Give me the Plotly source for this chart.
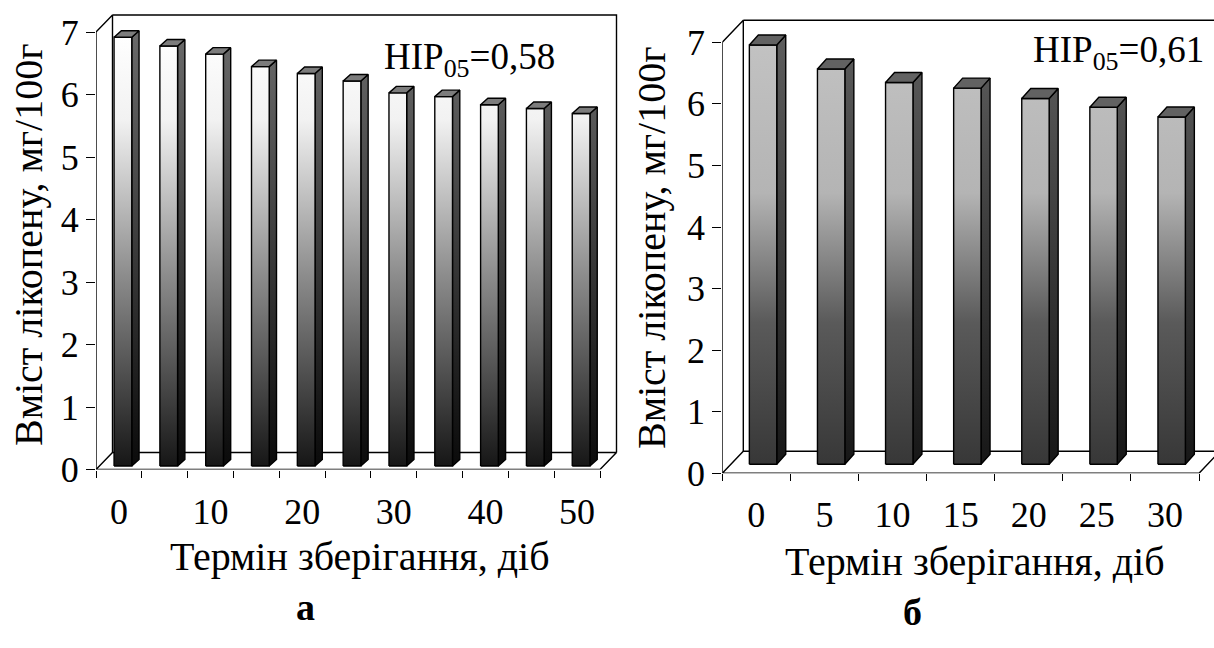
import plotly.graph_objects as go

# Storage time (days) and lycopene content (mg/100 g), two storage trials
days_a = [0, 5, 10, 15, 20, 25, 30, 35, 40, 45, 50]
lycopene_a = [6.86, 6.72, 6.59, 6.39, 6.28, 6.16, 5.97, 5.91, 5.78, 5.72, 5.64]
day_labels_a = ["0", "10", "20", "30", "40", "50"]

days_b = [0, 5, 10, 15, 20, 25, 30]
lycopene_b = [6.81, 6.42, 6.20, 6.11, 5.94, 5.80, 5.64]
day_labels_b = ["0", "5", "10", "15", "20", "25", "30"]

value_ticks = [0, 1, 2, 3, 4, 5, 6, 7]
hsd_a = "НІР<sub>05</sub>=0,58"
hsd_b = "НІР<sub>05</sub>=0,61"
y_title = "Вміст лікопену, мг/100г"
x_title = "Термін зберігання, діб"

W, H = 1214, 648
FONT = "Liberation Serif"
VMAX = value_ticks[-1]
LINE = dict(color="black", width=1.4)
TICK_FONT = dict(family=FONT, size=36, color="black")
TITLE_FONT = dict(family=FONT, size=40, color="black")

# pixel layout of each pseudo-3D panel (front plane + depth offsets)
panels = [
    dict(sfx="", days=days_a, values=lycopene_a, labels=day_labels_a, hsd=hsd_a, letter="а",
         left=96, right_front=600, floor=469.5, top_tick=32, dom_top=10, dom_right=624,
         depth=(16.5, 17.0), bar_shift=(4.0, 3.5), bar_depth=(7.3, 6.5), bar_width=17.7,
         front_scale=[[0, "#141414"], [0.45, "#8e8e8e"], [0.8, "#f2f2f2"], [1, "#ffffff"]],
         side_scale=[[0, "#0a0a0a"], [1, "#6a6a6a"]], top_color="#7c7c7c",
         hsd_xy=(382, 60), xtitle_xy=(360, 556), ytitle_xy=(28, 245), letter_xy=(305, 607)),
    dict(sfx="2", days=days_b, values=lycopene_b, labels=day_labels_b, hsd=hsd_b, letter="б",
         left=722.3, right_front=1199, floor=473.3, top_tick=42.3, dom_top=14, dom_right=1214,
         depth=(21.0, 22.0), bar_shift=(6.7, 9.0), bar_depth=(9.0, 10.0), bar_width=27.4,
         front_scale=[[0, "#353535"], [0.35, "#5a5a5a"], [0.65, "#b4b4b4"], [1, "#c2c2c2"]],
         side_scale=[[0, "#161616"], [1, "#5c5c5c"]], top_color="#626262",
         hsd_xy=(1031, 52), xtitle_xy=(975, 561), ytitle_xy=(652, 248), letter_xy=(912, 612)),
]


def polys(shapes):
    xs, ys = [], []
    for pts in shapes:
        for x, y in pts:
            xs.append(x)
            ys.append(y)
        xs.append(pts[0][0])
        ys.append(pts[0][1])
        xs.append(None)
        ys.append(None)
    return xs, ys


def paths(lines):
    xs, ys = [], []
    for pts in lines:
        for x, y in pts:
            xs.append(x)
            ys.append(y)
        xs.append(None)
        ys.append(None)
    return xs, ys


fig = go.Figure()
annotations = []

for p in panels:
    n = len(p["days"])
    ux = (p["right_front"] - p["left"]) / n          # px per category
    uy = (p["floor"] - p["top_tick"]) / VMAX          # px per value unit
    xa, ya = "x" + p["sfx"], "y" + p["sfx"]
    dx, dy = p["depth"][0] / ux, p["depth"][1] / uy
    bx, by = p["bar_shift"][0] / ux, p["bar_shift"][1] / uy
    bdx, bdy = p["bar_depth"][0] / ux, p["bar_depth"][1] / uy
    hw = p["bar_width"] / ux / 2
    x0, x1 = -0.5, n - 0.5

    # walls and floor outline
    fx, fy = paths([
        [(x0, 0), (x1, 0), (x1 + dx, dy), (x0 + dx, dy), (x0, 0)],
        [(x0, 0), (x0, VMAX), (x0 + dx, VMAX + dy), (x0 + dx, dy)],
        [(x0 + dx, VMAX + dy), (x1 + dx, VMAX + dy), (x1 + dx, dy)],
    ])
    fig.add_trace(go.Scatter(x=fx, y=fy, mode="lines", line=LINE, xaxis=xa, yaxis=ya,
                             hoverinfo="skip", showlegend=False))

    fronts, sides, tops = [], [], []
    for i, v in enumerate(p["values"]):
        c = i + bx
        l, r = c - hw, c + hw
        fronts.append([(l, by), (r, by), (r, by + v), (l, by + v)])
        sides.append([(r, by), (r + bdx, by + bdy), (r + bdx, by + v + bdy), (r, by + v)])
        tops.append([(l, by + v), (r, by + v), (r + bdx, by + v + bdy), (l + bdx, by + v + bdy)])

    sx, sy = polys(sides)
    fig.add_trace(go.Scatter(x=sx, y=sy, mode="lines", fill="toself", line=LINE,
                             fillgradient=dict(type="vertical", colorscale=p["side_scale"],
                                               start=0, stop=VMAX),
                             xaxis=xa, yaxis=ya, hoverinfo="skip", showlegend=False))
    qx, qy = polys(fronts)
    fig.add_trace(go.Scatter(x=qx, y=qy, mode="lines", fill="toself", line=LINE,
                             fillgradient=dict(type="vertical", colorscale=p["front_scale"],
                                               start=0, stop=VMAX),
                             xaxis=xa, yaxis=ya, hoverinfo="skip", showlegend=False))
    tx, ty = polys(tops)
    fig.add_trace(go.Scatter(x=tx, y=ty, mode="lines", fill="toself", line=LINE,
                             fillcolor=p["top_color"], xaxis=xa, yaxis=ya,
                             hoverinfo="skip", showlegend=False))

    label_pos = [p["days"].index(int(t)) for t in p["labels"]]
    xr = [x0, x0 + (p["dom_right"] - p["left"]) / ux]
    yr = [0, (p["floor"] - p["dom_top"]) / uy]
    fig.update_layout({
        "xaxis" + p["sfx"]: dict(
            domain=[p["left"] / W, p["dom_right"] / W], range=xr, showline=False,
            showgrid=False, zeroline=False, tickvals=label_pos, ticktext=p["labels"],
            ticks="", tickfont=TICK_FONT, ticklabelstandoff=17, automargin=False,
            minor=dict(ticks="outside", tick0=-0.5, dtick=1, ticklen=7, tickwidth=1.3,
                       tickcolor="black", showgrid=False),
            anchor=ya, fixedrange=True),
        "yaxis" + p["sfx"]: dict(
            domain=[1 - p["floor"] / H, 1 - p["dom_top"] / H], range=yr, showline=False,
            showgrid=False, zeroline=False, tickvals=value_ticks, ticks="outside",
            ticklen=9, tickwidth=1.3, tickcolor="black", tickfont=TICK_FONT,
            automargin=False, anchor=xa, fixedrange=True),
    })

    annotations += [
        dict(text=p["hsd"], x=p["hsd_xy"][0] / W, y=1 - p["hsd_xy"][1] / H, xref="paper",
             yref="paper", xanchor="left", yanchor="middle", showarrow=False,
             font=dict(family=FONT, size=37, color="black")),
        dict(text=x_title, x=p["xtitle_xy"][0] / W, y=1 - p["xtitle_xy"][1] / H,
             xref="paper", yref="paper", xanchor="center", yanchor="middle",
             showarrow=False, font=TITLE_FONT),
        dict(text=y_title, x=p["ytitle_xy"][0] / W, y=1 - p["ytitle_xy"][1] / H,
             xref="paper", yref="paper", xanchor="center", yanchor="middle",
             showarrow=False, textangle=-90, font=TITLE_FONT),
        dict(text="<b>" + p["letter"] + "</b>", x=p["letter_xy"][0] / W,
             y=1 - p["letter_xy"][1] / H, xref="paper", yref="paper", xanchor="center",
             yanchor="middle", showarrow=False, font=dict(family=FONT, size=38, color="black")),
    ]

fig.update_layout(
    width=W, height=H, margin=dict(l=0, r=0, t=0, b=0, pad=0, autoexpand=False),
    autosize=False, font=TICK_FONT, paper_bgcolor="white", plot_bgcolor="rgba(0,0,0,0)",
    showlegend=False, hovermode=False, annotations=annotations,
)

fig.write_html("out.html")
